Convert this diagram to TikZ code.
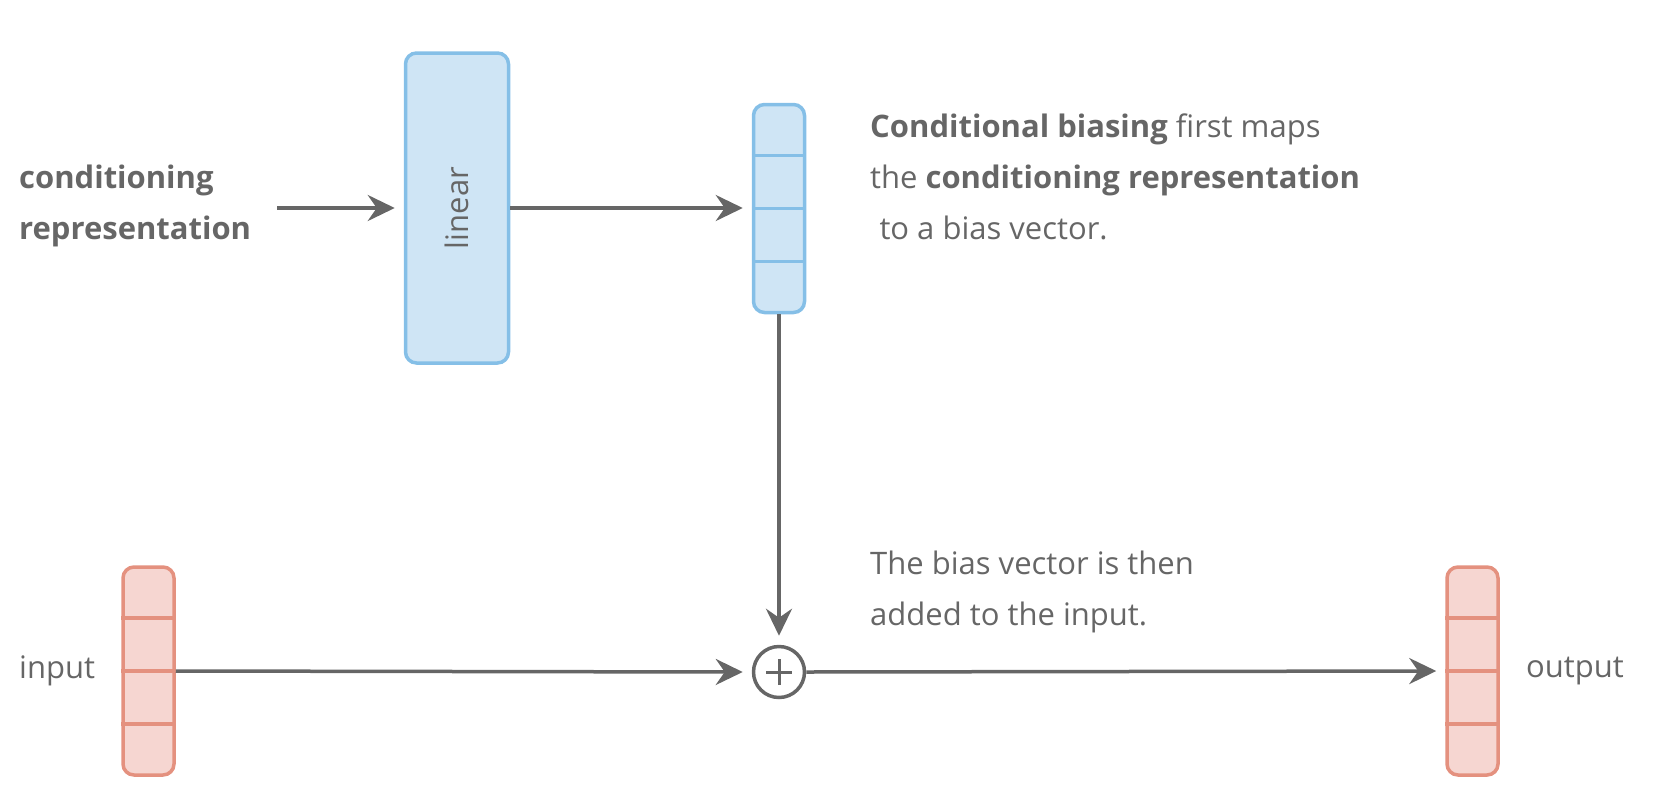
\documentclass[tikz,border=0pt]{standalone}
\usepackage{fontspec}
\setmainfont{Open Sans}
\usetikzlibrary{arrows.meta,calc}
\definecolor{txt}{HTML}{666666}
\definecolor{bfill}{HTML}{CFE5F5}
\definecolor{bline}{HTML}{85BFE7}
\definecolor{rfill}{HTML}{F6D6D1}
\definecolor{rline}{HTML}{E4917F}
\tikzset{
  conn/.style={draw=txt, line width=3.5pt, -{Stealth[length=27pt,width=26pt,inset=9pt]}},
  bluebox/.style={draw=bline, fill=bfill, line width=3.5pt, rounded corners=11pt, inner sep=0pt},
  redbox/.style={draw=rline, fill=rfill, line width=3.5pt, rounded corners=11pt, inner sep=0pt},
  vecbox/.style={minimum width=51pt, minimum height=208pt},
  lbl/.style={text=txt, font=\fontsize{31}{51}\selectfont, inner sep=0pt},
  plusnode/.style={draw=txt, line width=3.5pt, circle, minimum size=51pt, inner sep=0pt},
}
\begin{document}
\begin{tikzpicture}[x=1pt,y=-1pt]
\useasboundingbox (0,0) rectangle (1673,788);
% boxes
\node[bluebox, minimum width=103pt, minimum height=310pt] (lin) at (457,208) {};
\node[lbl, rotate=90] (lintxt) at (lin.center) {linear};
\node[bluebox, vecbox] (bias) at (779,208.5) {};
\node[redbox, vecbox] (inp) at (148.5,671) {};
\node[redbox, vecbox] (out) at (1472.5,671) {};
\foreach \v/\c in {bias/bline, inp/rline, out/rline}{
  \foreach \f in {0.25,0.5,0.75}{
    \draw[draw=\c, line width=3.5pt] ($(\v.north west)!\f!(\v.south west)$) -- ($(\v.north east)!\f!(\v.south east)$);
  }
}
\node[plusnode] (plus) at (779,672) {};
\draw[draw=txt, line width=3pt] ([xshift=-13pt]plus.center) -- ([xshift=13pt]plus.center)
  ([yshift=-13pt]plus.center) -- ([yshift=13pt]plus.center);
% texts
\node[lbl, anchor=base west] (c1) at (19,188) {\textbf{conditioning}};
\node[lbl, anchor=base west] (c2) at (19,239) {\textbf{representation}};
\node[lbl, anchor=base west] (t1) at (870,137) {\textbf{Conditional biasing} first maps};
\node[lbl, anchor=base west] (t2) at (870,188) {the \textbf{conditioning representation}};
\node[lbl, anchor=base west] (t3) at (870,239) {\hspace*{0.3em}to a bias vector.};
\node[lbl, anchor=base west] (t4) at (870,574) {The bias vector is then};
\node[lbl, anchor=base west] (t5) at (870,625) {added to the input.};
\node[lbl, anchor=west] (inl) at (19,671) {input};
\node[lbl, anchor=west] (outl) at (1526,671) {output};
% connectors
\coordinate (cstart) at (277,208);
\draw[conn] (cstart) -- ([xshift=-9pt]lin.west);
\draw[conn] (lin.east) -- ([xshift=-9pt]bias.west |- lin.east);
\draw[conn] (bias.south) -- ([yshift=9pt]plus.north);
\draw[conn] (inp.east) -- ([xshift=-9pt]plus.west);
\draw[conn] (plus.east) -- ([xshift=-9pt]out.west);
\end{tikzpicture}
\end{document}
